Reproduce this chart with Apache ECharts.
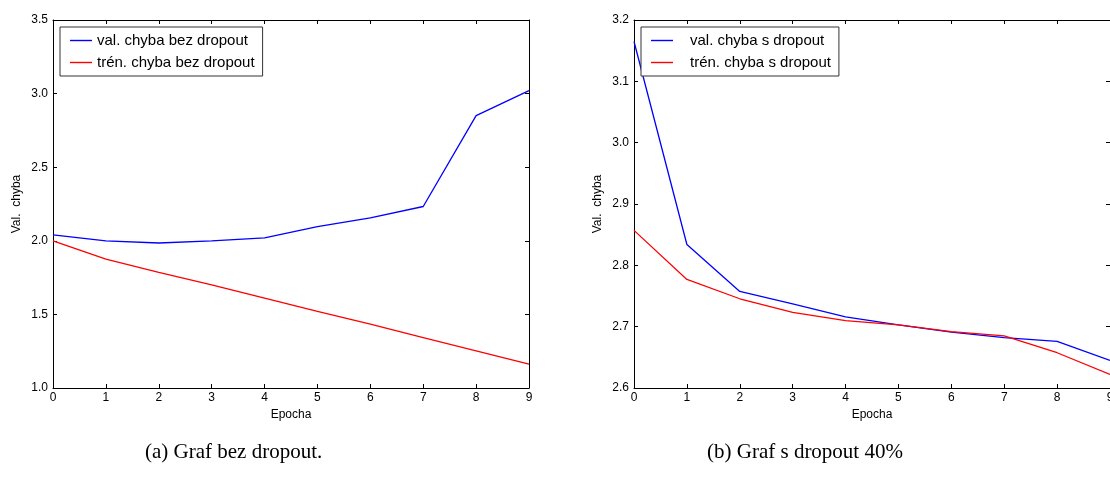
<!DOCTYPE html>
<html>
<head>
<meta charset="utf-8">
<title>Graf chyby</title>
<script src="https://cdn.jsdelivr.net/npm/echarts@6/dist/echarts.min.js"></script>
<style>
  html, body { margin: 0; padding: 0; background: #fff; }
  #chart { width: 1110px; height: 479px; }
</style>
</head>
<body>
<div id="chart"></div>
<script>
// Epochs shared by both panels
const epochs = [0, 1, 2, 3, 4, 5, 6, 7, 8, 9];

// Panel (a): training without dropout
const valNoDropout   = [2.04, 2.00, 1.985, 2.00, 2.02, 2.097, 2.156, 2.233, 2.85, 3.02];
const trainNoDropout = [2.00, 1.876, 1.785, 1.70, 1.61, 1.52, 1.434, 1.343, 1.253, 1.162];

// Panel (b): training with 40% dropout
const valDropout   = [3.165, 2.834, 2.7575, 2.737, 2.716, 2.703, 2.691, 2.682, 2.676, 2.645];
const trainDropout = [2.857, 2.777, 2.7455, 2.7233, 2.7097, 2.703, 2.692, 2.685, 2.6575, 2.622];

const seriesNames = {
  valA: 'val. chyba bez dropout',
  trainA: 'trén. chyba bez dropout',
  valB: 'val. chyba s dropout',
  trainB: 'trén. chyba s dropout'
};

const captions = ['(a) Graf bez dropout.', '(b) Graf s dropout 40%'];

const FONT = '"Liberation Sans", Arial, sans-serif';
const pairs = (ys) => epochs.map((x, i) => [x, ys[i]]);

function xAxes(gridIndex) {
  const base = {
    type: 'value', gridIndex, min: 0, max: 9, interval: 1,
    splitLine: { show: false },
    axisLine: { show: true, onZero: false, lineStyle: { color: '#000', width: 1 } },
    axisTick: { show: true, inside: true, length: 4, lineStyle: { color: '#000' } }
  };
  return [
    Object.assign({}, base, {
      position: 'bottom',
      name: 'Epocha', nameLocation: 'middle', nameGap: 20,
      nameTextStyle: { fontFamily: FONT, fontSize: 12, color: '#000' },
      axisLabel: { show: true, fontFamily: FONT, fontSize: 12, color: '#000', margin: 4 }
    }),
    Object.assign({}, base, { position: 'top', axisLabel: { show: false } })
  ];
}

function yAxes(gridIndex, min, max, interval, decimals) {
  const base = {
    type: 'value', gridIndex, min, max, interval,
    splitLine: { show: false },
    axisLine: { show: true, onZero: false, lineStyle: { color: '#000', width: 1 } },
    axisTick: { show: true, inside: true, length: 4, lineStyle: { color: '#000' } }
  };
  return [
    Object.assign({}, base, {
      position: 'left',
      name: 'Val.  chyba', nameLocation: 'middle', nameGap: 30,
      nameTextStyle: { fontFamily: FONT, fontSize: 12, color: '#000' },
      axisLabel: {
        show: true, fontFamily: FONT, fontSize: 12, color: '#000', margin: 5,
        formatter: (v) => v.toFixed(decimals)
      }
    }),
    Object.assign({}, base, { position: 'right', axisLabel: { show: false } })
  ];
}

function legendBox(left, names, textPad) {
  return {
    orient: 'vertical', left, top: 27,
    data: names,
    icon: 'rect', itemWidth: 22, itemHeight: 1.4, itemGap: 7,
    borderColor: '#333', borderWidth: 1, borderRadius: 0,
    padding: [6, 8, 6, 10], backgroundColor: '#fff',
    textStyle: { fontFamily: FONT, fontSize: 15, color: '#000', padding: [0, 0, 0, textPad] },
    selectedMode: false
  };
}

function line(name, ys, axisIndex, color) {
  return {
    name, type: 'line', data: pairs(ys),
    xAxisIndex: axisIndex, yAxisIndex: axisIndex,
    symbol: 'none', silent: true,
    lineStyle: { color, width: 1.3 },
    itemStyle: { color }
  };
}

const chart = echarts.init(document.getElementById('chart'), null, { renderer: 'canvas' });

chart.setOption({
  animation: false,
  backgroundColor: '#fff',
  grid: [
    { left: 53, top: 20, width: 476, height: 368, containLabel: false, outerBoundsMode: 'none' },
    { left: 634, top: 20, width: 476, height: 368, containLabel: false, outerBoundsMode: 'none' }
  ],
  xAxis: [...xAxes(0), ...xAxes(1)],
  yAxis: [...yAxes(0, 1.0, 3.5, 0.5, 1), ...yAxes(1, 2.6, 3.2, 0.1, 1)],
  legend: [
    legendBox(60, [seriesNames.valA, seriesNames.trainA], 0),
    legendBox(641, [seriesNames.valB, seriesNames.trainB], 12)
  ],
  series: [
    line(seriesNames.valA, valNoDropout, 0, '#0000ff'),
    line(seriesNames.trainA, trainNoDropout, 0, '#ff0000'),
    line(seriesNames.valB, valDropout, 2, '#0000ff'),
    line(seriesNames.trainB, trainDropout, 2, '#ff0000')
  ],
  graphic: [
    {
      type: 'text', left: 145, top: 442,
      style: { text: captions[0], font: '21px "Liberation Serif", "DejaVu Serif", serif', fill: '#000' }
    },
    {
      type: 'text', left: 707, top: 442,
      style: { text: captions[1], font: '21px "Liberation Serif", "DejaVu Serif", serif', fill: '#000' }
    }
  ]
});
</script>
</body>
</html>
